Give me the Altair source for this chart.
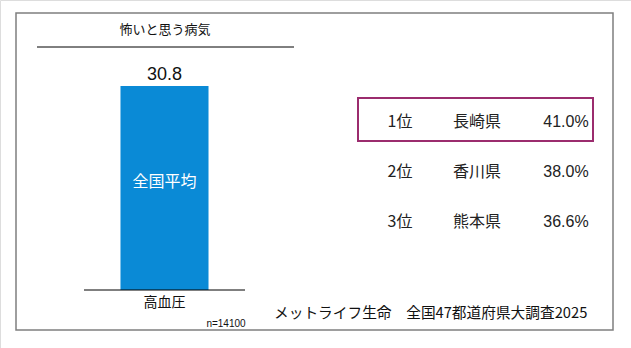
import altair as alt
import pandas as pd

# ---- data ----
title_text = ["怖いと思う病気"]
categories = ["高血圧"]
values = [30.8]
bar_label = ["全国平均"]
sample_note = ["n=14100"]

ranks = ["1位", "2位", "3位"]
prefectures = ["長崎県", "香川県", "熊本県"]
percents = ["41.0%", "38.0%", "36.6%"]
footer = ["メットライフ生命　全国47都道府県大調査2025"]

JP = "Noto Sans CJK JP"
LAT = "Liberation Sans"
W, H = 631, 348

bar_df = pd.DataFrame({"cat": categories, "value": values,
                       "label": bar_label, "vtxt": [f"{v:.1f}" for v in values]})
tbl_df = pd.DataFrame({"rank": ranks, "pref": prefectures, "pct": percents})

xs = alt.Scale(domain=categories, range=[84, 245], paddingInner=0.293, paddingOuter=0.293)
ys = alt.Scale(domain=[0, 40], range=[290, 290 - 204 * 40 / 30.8])

base = alt.Chart(bar_df)

frame = alt.Chart(pd.DataFrame({"a": [0]})).mark_rect(
    fill="white", stroke="#7f7f7f", strokeWidth=1.5
).encode(x=alt.value(16), x2=alt.value(613), y=alt.value(13), y2=alt.value(330))

bar = base.mark_bar(color="#0A8AD6").encode(
    x=alt.X("cat:N", scale=xs, axis=None),
    y=alt.Y("value:Q", scale=ys, axis=None),
)
val_txt = base.mark_text(font=LAT, fontSize=18, color="#111", baseline="alphabetic", dy=-6).encode(
    x=alt.X("cat:N", scale=xs, axis=None),
    y=alt.Y("value:Q", scale=ys, axis=None),
    text="vtxt:N",
)
inner_txt = base.mark_text(font=JP, fontSize=16, color="white", baseline="middle").encode(
    x=alt.X("cat:N", scale=xs, axis=None),
    y=alt.value(182),
    text="label:N",
)
cat_txt = base.mark_text(font=JP, fontSize=14, color="#111", baseline="middle").encode(
    x=alt.X("cat:N", scale=xs, axis=None),
    y=alt.value(303),
    text="cat:N",
)
baseline = base.mark_rule(color="black", strokeWidth=1).encode(
    x=alt.value(84), x2=alt.value(245), y=alt.value(290)
)

title = alt.Chart(pd.DataFrame({"t": title_text})).mark_text(
    font=JP, fontSize=13, color="#111", baseline="middle"
).encode(x=alt.value(165), y=alt.value(30), text="t:N")
title_rule = alt.Chart(pd.DataFrame({"t": title_text})).mark_rule(color="black", strokeWidth=1).encode(
    x=alt.value(37), x2=alt.value(294), y=alt.value(47)
)
note = alt.Chart(pd.DataFrame({"t": sample_note})).mark_text(
    font=LAT, fontSize=10, color="#111", baseline="middle"
).encode(x=alt.value(226), y=alt.value(324), text="t:N")

ry = alt.Scale(domain=ranks, range=[122, 222], type="point", padding=0)
tb = alt.Chart(tbl_df)
col_rank = tb.mark_text(font=JP, fontSize=16, color="#222", baseline="middle").encode(
    x=alt.value(400), y=alt.Y("rank:N", scale=ry, axis=None), text="rank:N")
col_pref = tb.mark_text(font=JP, fontSize=16, color="#222", baseline="middle").encode(
    x=alt.value(477), y=alt.Y("rank:N", scale=ry, axis=None), text="pref:N")
col_pct = tb.mark_text(font=LAT, fontSize=16, color="#222", baseline="middle").encode(
    x=alt.value(566), y=alt.Y("rank:N", scale=ry, axis=None), text="pct:N")
box = alt.Chart(pd.DataFrame({"a": [0]})).mark_rect(
    fill=None, stroke="#9B2C6E", strokeWidth=2
).encode(x=alt.value(358), x2=alt.value(593), y=alt.value(98), y2=alt.value(141))

foot = alt.Chart(pd.DataFrame({"t": footer})).mark_text(
    font=JP, fontSize=14.7, color="#111", baseline="middle", align="left"
).encode(x=alt.value(274), y=alt.value(314), text="t:N")

chart = alt.layer(
    frame, bar, val_txt, inner_txt, cat_txt, baseline, title, title_rule, note,
    col_rank, col_pref, col_pct, box, foot
).properties(
    width=W, height=H, padding=0, autosize=alt.AutoSizeParams(type="none")
).configure_view(stroke=None).configure(background="white")

chart.save("out.html", embed_options={"renderer": "svg", "actions": False})
